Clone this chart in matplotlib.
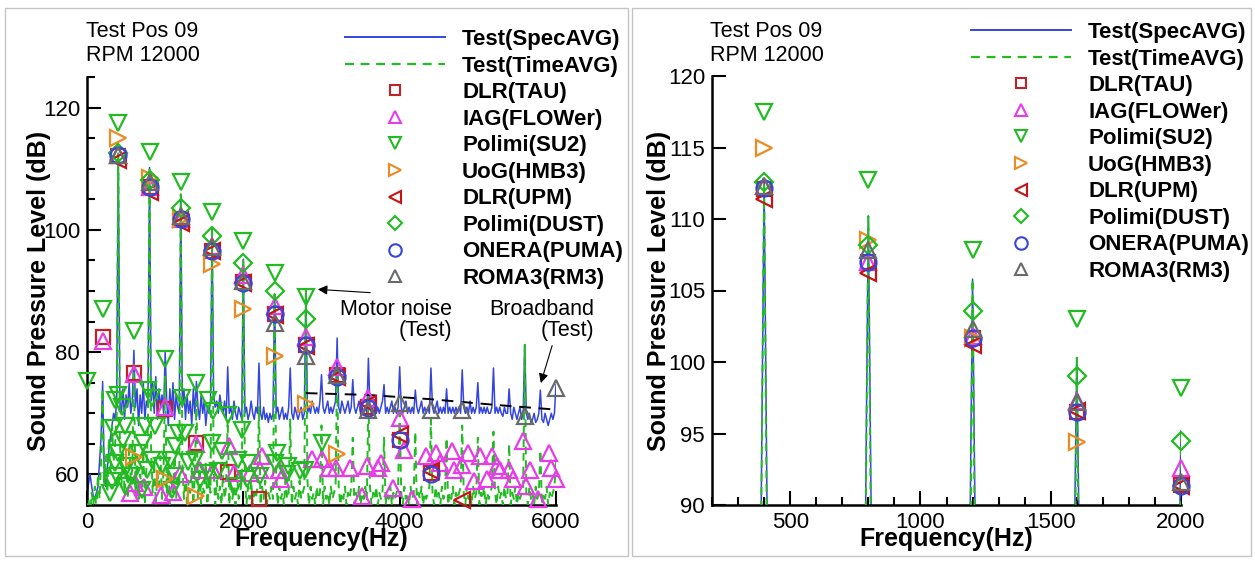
"""
Rotor noise spectra, Test Pos 09 at 12000 RPM: test data vs. code predictions.
Left: full spectrum up to 6 kHz. Right: zoom on the BPF harmonics.
"""
import numpy as np
import matplotlib.pyplot as plt
from matplotlib.lines import Line2D
from matplotlib.patches import Rectangle

plt.rcParams['font.family'] = ['Liberation Sans', 'DejaVu Sans']

# measured spectra, sampled every 20 Hz from 0 to 6000 Hz (one row = 400 Hz)
spec_avg = [
    57, 58.5, 60, 58, 56.5, 56, 57, 58, 62, 66, 75.2, 60, 58, 61, 64, 66, 68, 70, 69, 72,
    112.5, 72, 70, 74, 69, 73, 71, 75, 70, 72, 80.3, 71, 74, 68, 73, 70, 75, 69, 72, 71,
    110.2, 72, 75, 70, 76, 69, 74, 71, 73, 70, 80, 72, 68, 74, 70, 75, 69, 73, 71, 70,
    105.8, 71, 74, 69, 73, 70, 72, 68, 74, 70, 75.2, 71, 69, 73, 70, 72, 68, 71, 70, 72,
    100.3, 73, 71, 72, 70, 73, 71, 70, 72, 69, 77.6, 70, 71, 69, 72, 70, 69, 71, 70, 69,
    95.2, 70, 71, 69, 70, 72, 70, 69, 71, 70, 78.2, 70, 69, 71, 69, 70, 68.5, 70, 69, 70,
    89.5, 70, 71, 69, 70, 71, 69, 70, 69, 71, 77.4, 70, 69, 71, 70, 69, 70, 71, 69, 70,
    90.3, 70, 71, 70, 72, 71, 70, 71, 70, 72, 76.3, 71, 70, 71, 72, 70, 71, 70, 71, 72,
    82.3, 71, 70, 72, 71, 70, 71, 72, 70, 71, 75.5, 71, 70, 71, 72, 70, 71, 70, 71, 70,
    79, 71, 70, 71, 72, 70, 71, 70, 71, 72, 74.7, 70, 71, 70, 71, 72, 70, 71, 70, 71,
    77.6, 71, 70, 71, 72, 70, 71, 70, 71, 70, 73.8, 71, 70, 71, 72, 70, 71, 70, 71, 70,
    77.4, 71, 70, 71, 72, 70, 71, 70, 71, 70, 74, 70, 71, 70, 71, 70, 71, 70, 71, 70,
    77.1, 71, 70, 71, 70, 72, 70, 71, 70, 71, 75, 70, 71, 70, 71, 70, 71, 70, 70, 71,
    77.4, 70, 71, 70, 71, 70, 69.5, 71, 70, 70, 74, 70, 69, 71, 70, 69, 70, 71, 69, 70,
    81.2, 70, 69, 70, 68.5, 69, 70, 68.5, 69, 70, 73.8, 69, 68.5, 70, 69, 68, 69, 70, 69, 70,
    74.7,
]
time_avg = [
    54, 56, 53, 57, 55, 58, 54, 60, 56, 62, 74, 58, 63, 57, 66, 60, 68, 62, 65, 70,
    112.5, 66, 58, 64, 57, 62, 56, 65, 59, 61, 78, 57, 63, 56, 60, 58, 64, 55, 61, 68,
    110.2, 64, 57, 62, 55, 60, 58, 63, 56, 61, 76, 57, 62, 55, 59, 57, 63, 56, 60, 58,
    105.8, 62, 56, 60, 55, 59, 57, 61, 55, 60, 72, 56, 61, 55, 58, 57, 62, 55, 59, 57,
    100.3, 61, 55, 59, 56, 58, 55, 60, 56, 58, 69, 55, 59, 56, 58, 55, 60, 56, 57, 59,
    95.2, 60, 55, 58, 56, 59, 55, 57, 56, 58, 71, 55, 58, 56, 59, 55, 57, 56, 58, 56,
    89.5, 60, 55, 58, 56, 57, 55, 59, 56, 57, 69, 55, 58, 56, 57, 55, 59, 56, 57, 58,
    90.3, 59, 55, 58, 56, 57, 55, 58, 56, 57, 68, 55, 58, 56, 57, 55, 58, 56, 57, 58,
    77.6, 58, 55, 57, 56, 58, 55, 57, 56, 58, 66, 55, 57, 56, 58, 55, 57, 56, 58, 56,
    72.7, 58, 55, 57, 56, 58, 55, 57, 56, 57, 66, 55, 57, 56, 58, 55, 57, 56, 57, 58,
    70, 57, 55, 58, 56, 57, 55, 58, 56, 57, 67, 55, 57, 56, 58, 55, 57, 56, 57, 58,
    69, 57, 55, 58, 56, 57, 55, 58, 56, 57, 66, 55, 57, 56, 58, 55, 57, 56, 57, 58,
    68, 57, 55, 58, 56, 57, 55, 58, 56, 57, 66, 55, 57, 56, 58, 55, 57, 56, 57, 58,
    67, 57, 55, 58, 56, 57, 55, 58, 56, 57, 65, 55, 57, 56, 58, 55, 57, 56, 57, 58,
    81.2, 57, 55, 58, 56, 57, 55, 58, 56, 57, 64, 55, 57, 56, 58, 55, 57, 56, 57, 58,
    62,
]
freq = np.arange(len(spec_avg)) * 20

# broadband trend of the test data
bb_f = [2800, 3600, 4400, 5200, 6000]
bb_L = [73.3, 73.0, 72.3, 71.4, 70.6]

# code predictions (frequency in Hz, SPL in dB)
tau_f = [200, 400, 600, 800, 1000, 1200, 1400, 1600, 1800, 2000, 2200, 2400, 2800, 3200, 3600, 4000, 4400]
tau_L = [82.5, 112.1, 76.6, 107.0, 70.7, 101.7, 65.2, 96.5, 60.4, 91.4, 56.0, 86.3, 81.1, 76.2, 71.0, 65.6, 60.3]

iag_f = [200, 400, 600, 800, 1000, 1200, 1400, 1600, 2000, 2400, 2800, 3200, 3600, 4000,
         550, 614, 729, 951, 1104, 1190, 1446, 1615, 1814, 1880, 2080, 2213, 2235, 2456, 2478,
         2877, 3010, 3098, 3186, 3363, 3518, 3585, 3718, 3762, 3917, 4050, 4160, 4337, 4470,
         4515, 4670, 4692, 4802, 4869, 4957, 5024, 5112, 5179, 5245, 5289, 5400, 5444, 5577,
         5621, 5666, 5776, 5909, 5931, 6000]
iag_L = [81.8, 112.3, 76.4, 107.0, 71.0, 101.8, 65.0, 97.3, 92.6, 87.5, 82.5, 77.5, 72.5, 69.2,
         57.0, 58.6, 58.0, 56.7, 57.2, 60.0, 60.8, 60.8, 64.6, 60.2, 60.2, 60.8, 63.0, 60.8, 59.2,
         62.5, 62.5, 61.1, 61.1, 61.1, 56.4, 61.3, 61.1, 61.9, 57.8, 64.0, 55.9, 63.0, 63.5,
         61.9, 63.8, 60.8, 61.6, 63.5, 58.9, 63.0, 59.2, 63.0, 61.3, 60.8, 60.8, 59.2, 65.4,
         58.1, 60.8, 55.9, 63.5, 61.1, 59.2]

su2_f = [0, 200, 400, 600, 800, 1000, 1200, 1400, 1600, 1800, 2000, 2400, 2800, 3000,
         401, 358, 443, 785, 827, 1211, 1552, 337, 486, 465, 742, 870, 721, 1168, 1254, 1126,
         401, 358, 507, 657, 827, 1062, 1290, 1382, 763, 955, 380, 571, 294, 486, 699, 1126,
         1083, 1446, 316, 1616, 1979, 1595, 1723, 1936, 2064, 1552, 1680, 2213, 2405, 2426,
         2554, 2725, 2789, 1893, 2050, 2567]
su2_L = [75.2, 87.0, 117.5, 83.5, 112.7, 78.8, 107.8, 74.9, 103.0, 69.8, 98.2, 93.0, 89.0, 65.2,
         73.0, 72.2, 71.0, 73.8, 72.5, 72.5, 72.2, 67.6, 67.9, 65.7, 67.9, 67.9, 65.1, 66.8, 66.8, 64.6,
         63.5, 61.9, 61.3, 63.5, 62.4, 62.4, 62.0, 62.4, 60.8, 61.3, 59.7, 59.7, 57.0, 58.1, 57.5, 59.7,
         57.5, 59.1, 58.9, 70.3, 67.3, 65.1, 63.8, 62.4, 61.9, 60.2, 60.5, 59.7, 61.9, 63.5,
         60.0, 60.5, 60.8, 58.1, 59.2, 61.3]

uog_f = [400, 600, 800, 1000, 1200, 1400, 1600, 2000, 2400, 2800, 3200]
uog_L = [115.0, 62.9, 108.5, 59.2, 101.7, 56.4, 94.4, 87.0, 79.4, 71.5, 63.4]

upm_f = [400, 800, 1200, 1600, 2000, 2400, 2800, 3200, 3600, 4000, 4400, 4800]
upm_L = [111.4, 106.2, 101.2, 96.6, 91.3, 86.0, 81.0, 76.0, 71.5, 66.5, 60.5, 55.8]

dust_f = [400, 800, 1200, 1600, 2000, 2400, 2800]
dust_L = [112.6, 108.2, 103.6, 99.0, 94.5, 90.0, 85.5]

puma_f = [400, 800, 1200, 1600, 2000, 2400, 2800, 3200, 3600, 4000, 4400]
puma_L = [112.2, 107.0, 101.7, 96.5, 91.3, 86.3, 81.2, 76.0, 70.8, 65.6, 60.1]

rm3_f = [400, 800, 1200, 1600, 2000, 2400, 2800, 3200, 3600, 4000, 4400, 4800, 5600, 6000]
rm3_L = [112.3, 107.8, 102.3, 97.2, 91.6, 84.7, 79.4, 76.3, 70.5, 71.7, 70.6, 70.6, 69.5, 74.2]

BLUE = '#3446dc'
GREEN = '#22bb22'
codes = [
    ('DLR(TAU)', tau_f, tau_L, 's', '#c42126', 9.5),
    ('IAG(FLOWer)', iag_f, iag_L, '^', '#e83ce8', 11),
    ('Polimi(SU2)', su2_f, su2_L, 'v', GREEN, 11),
    ('UoG(HMB3)', uog_f, uog_L, '>', '#ee8a22', 11),
    ('DLR(UPM)', upm_f, upm_L, '<', '#c41414', 11),
    ('Polimi(DUST)', dust_f, dust_L, 'D', GREEN, 9),
    ('ONERA(PUMA)', puma_f, puma_L, 'o', BLUE, 11.5),
    ('ROMA3(RM3)', rm3_f, rm3_L, '^', '#6a6a6a', 11),
]

W, H = 1255, 562


def draw_panel(ax, xlim, ylim):
    ax.plot(freq, spec_avg, color=BLUE, lw=1.1, zorder=2)
    ax.plot(freq, time_avg, color=GREEN, lw=1.4, ls=(0, (4, 3)), zorder=3)
    for name, f, L, mk, col, ms in codes:
        f = np.array(f)
        L = np.array(L)
        keep = (f >= xlim[0]) & (f <= xlim[1]) & (L >= ylim[0]) & (L <= ylim[1])
        ax.plot(f[keep], L[keep], ls='none', marker=mk, ms=ms, mfc='none', mec=col,
                mew=1.6, zorder=5, clip_on=False)
    ax.set_xlim(*xlim)
    ax.set_ylim(*ylim)
    for s in ['top', 'right']:
        ax.spines[s].set_visible(False)
    for s in ['left', 'bottom']:
        ax.spines[s].set_linewidth(1.8)
    ax.tick_params(which='both', direction='in', width=1.5, labelsize=16, pad=5)
    ax.tick_params(which='major', length=10)
    ax.tick_params(which='minor', length=6)
    ax.set_xlabel('Frequency(Hz)', fontsize=18, fontweight='bold')
    ax.set_ylabel('Sound Pressure Level (dB)', fontsize=18, fontweight='bold')


def add_legend(ax, x_px, top_px):
    handles = [Line2D([], [], color=BLUE, lw=1.4),
               Line2D([], [], color=GREEN, lw=1.6, ls=(0, (4, 3)))]
    labels = ['Test(SpecAVG)', 'Test(TimeAVG)']
    for name, f, L, mk, col, ms in codes:
        handles.append(Line2D([], [], ls='none', marker=mk, ms=ms * 0.78, mfc='none',
                              mec=col, mew=1.5))
        labels.append(name)
    ax.legend(handles, labels, loc='upper left', bbox_to_anchor=(x_px / W, 1 - top_px / H),
              bbox_transform=ax.figure.transFigure, frameon=False, borderpad=0,
              borderaxespad=0, handlelength=4.5, handletextpad=0.77, labelspacing=0.25,
              numpoints=1, prop={'weight': 'bold', 'size': 16})


fig = plt.figure(figsize=(W / 100, H / 100), dpi=100)

# panel frames
fig.add_artist(Rectangle((5 / W, 6 / H), 623 / W, 548 / H, transform=fig.transFigure,
                         fill=False, ec='#c4c4c4', lw=1))
fig.add_artist(Rectangle((632 / W, 6 / H), 619 / W, 548 / H, transform=fig.transFigure,
                         fill=False, ec='#c4c4c4', lw=1))

# left: full spectrum
ax1 = fig.add_axes([87 / W, 57 / H, 469 / W, 428 / H])
draw_panel(ax1, (0, 6000), (55, 125))
ax1.plot(bb_f, bb_L, color='k', lw=1.4, ls=(0, (6, 4)), zorder=4)
ax1.set_xticks([0, 2000, 4000, 6000])
ax1.set_yticks([60, 80, 100, 120])
ax1.set_yticks(np.arange(55, 126, 5), minor=True)
ax1.xaxis.set_label_coords(0.5, -0.052)
ax1.yaxis.set_label_coords(-0.077, 0.5)
ax1.annotate('', xy=(2917, 90.3), xytext=(3659, 89.7),
             arrowprops=dict(arrowstyle='-|>', color='k', lw=0.8, mutation_scale=14))
ax1.annotate('', xy=(5795, 74.5), xytext=(5961, 81.5),
             arrowprops=dict(arrowstyle='-|>', color='k', lw=0.8, mutation_scale=14))
ax1.text(4669, 85.2, 'Motor noise\n(Test)', ha='right', va='center', fontsize=15.5,
         multialignment='right', linespacing=1.0)
ax1.text(6486, 85.2, 'Broadband\n(Test)', ha='right', va='center', fontsize=15.5,
         multialignment='right', linespacing=1.0)
fig.text(86 / W, 1 - 21 / H, 'Test Pos 09\nRPM 12000', ha='left', va='top', fontsize=15.5,
         linespacing=1.2)
add_legend(ax1, 345, 29)

# right: zoom on the blade passing harmonics
ax2 = fig.add_axes([712 / W, 57 / H, 469 / W, 429 / H])
draw_panel(ax2, (200, 2000), (90, 120))
ax2.set_xticks([500, 1000, 1500, 2000])
ax2.set_xticks(np.arange(200, 2001, 100), minor=True)
ax2.set_yticks([90, 95, 100, 105, 110, 115, 120])
ax2.xaxis.set_label_coords(0.5, -0.052)
ax2.yaxis.set_label_coords(-0.087, 0.5)
fig.text(710 / W, 1 - 21 / H, 'Test Pos 09\nRPM 12000', ha='left', va='top', fontsize=15.5,
         linespacing=1.2)
add_legend(ax2, 971, 22)

fig.savefig('out.png', dpi=100)
